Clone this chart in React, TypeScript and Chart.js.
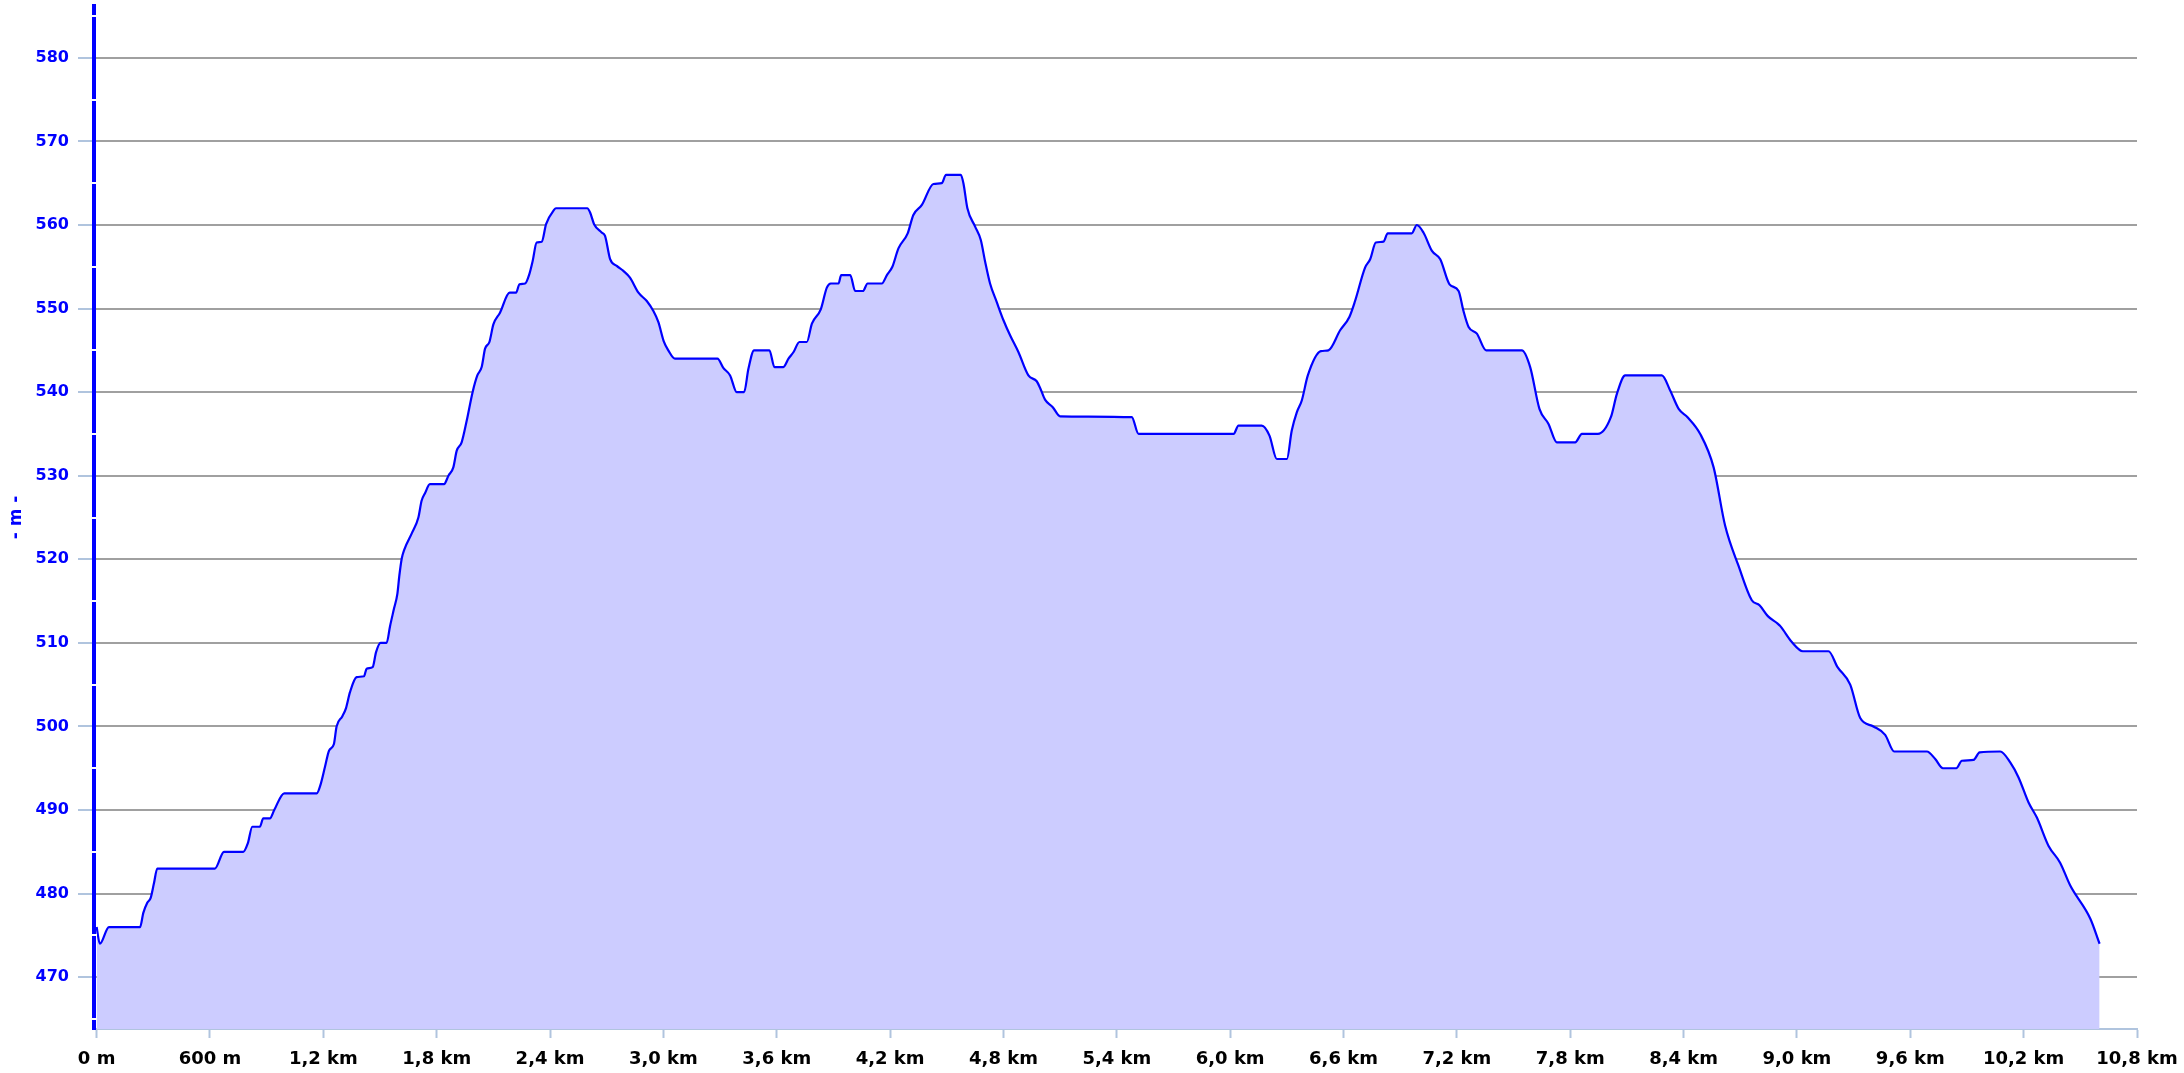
import React, { useEffect, useRef } from "react";
import { Chart, registerables } from "chart.js";

Chart.register(...registerables);

// Distance along the track (m)
const distances = [
  0, 17, 65, 230, 247, 268, 286, 303, 321, 626, 674, 776, 800, 824, 864, 882, 917, 940, 993, 1165,
  1186, 1209, 1230, 1256, 1270, 1300, 1320, 1341, 1376, 1415, 1429, 1461, 1479, 1503, 1535, 1553, 1574, 1592, 1602, 1615,
  1629, 1668, 1703, 1720, 1738, 1764, 1839, 1862, 1888, 1906, 1932, 1959, 1990, 2015, 2038, 2056, 2079, 2100, 2135, 2186,
  2220, 2238, 2268, 2290, 2308, 2329, 2356, 2379, 2421, 2431, 2597, 2612, 2633, 2673, 2691, 2718, 2753, 2788, 2823, 2868,
  2912, 2947, 2973, 3003, 3026, 3061, 3286, 3317, 3353, 3388, 3427, 3450, 3480, 3561, 3588, 3635, 3662, 3689, 3720, 3759,
  3786, 3833, 3865, 3886, 3927, 3941, 3989, 4015, 4056, 4081, 4156, 4183, 4212, 4244, 4293, 4323, 4368, 4429, 4473, 4496,
  4574, 4588, 4609, 4650, 4680, 4703, 4729, 4764, 4800, 4835, 4879, 4932, 4976, 4994, 5020, 5061, 5100, 5479, 5515, 6018,
  6044, 6167, 6208, 6247, 6300, 6326, 6353, 6379, 6411, 6480, 6520, 6582, 6631, 6661, 6714, 6741, 6771, 6811, 6834, 6961,
  6988, 7023, 7068, 7112, 7161, 7209, 7235, 7262, 7306, 7355, 7544, 7588, 7637, 7685, 7729, 7826, 7862, 7946, 8015, 8047,
  8091, 8285, 8329, 8374, 8421, 8488, 8559, 8620, 8691, 8761, 8802, 8846, 8898, 8912, 8973, 9031, 9167, 9215, 9282, 9335,
  9405, 9467, 9515, 9688, 9732, 9773, 9843, 9873, 9935, 9967, 10076, 10129, 10173, 10226, 10270, 10332, 10393, 10446, 10553, 10602,
];

// Elevation (m)
const elevations = [
  476, 474, 476, 476, 477.7, 478.9, 479.5, 481.2, 483, 483, 485, 485, 486, 488, 488, 489, 489, 490, 492, 492,
  493.1, 495.2, 497.1, 497.9, 500, 501.2, 502.2, 504.1, 505.9, 506, 506.9, 507.1, 508.9, 510, 510, 512, 514.1, 515.9, 518, 520.1,
  521.2, 523.1, 525, 527, 527.9, 529, 529, 530, 531, 533, 534, 536.6, 540, 542, 543, 545.2, 546, 548.1, 549.5, 551.9,
  551.9, 552.9, 553, 554.1, 555.7, 557.9, 558, 560.1, 561.8, 562, 562, 561.5, 560.1, 559.1, 558.7, 555.9, 555.1, 554.5, 553.7, 551.9,
  550.9, 549.7, 548.4, 546, 545, 544, 544, 542.9, 542, 540, 540, 542.8, 545, 545, 543, 543, 544, 544.8, 546, 546,
  548.2, 549.9, 552.5, 553, 553, 554, 554, 552.1, 552.1, 553, 553, 554, 555, 557.2, 559, 561.2, 562.4, 564.9, 565, 566,
  566, 565, 562, 559.8, 558.2, 555.6, 553, 550.8, 548.6, 546.8, 544.8, 542, 541.3, 540.5, 539.1, 538.2, 537.1, 537, 535, 535,
  536, 536, 534.8, 532, 532, 535.4, 537.6, 539, 542, 544.9, 545, 547.4, 549, 550.9, 554.9, 555.9, 557.9, 558, 559, 559,
  560, 559.1, 556.9, 555.9, 552.9, 552.1, 549.7, 547.8, 547, 545, 545, 543, 538, 536.2, 534, 534, 535, 535, 537, 539.8,
  542, 542, 540.2, 538, 537, 535, 531, 524, 519.2, 515.1, 514.5, 513.2, 512.3, 512, 510.1, 509, 509, 507.1, 505, 501,
  500, 499, 497, 497, 496.1, 495, 495, 495.9, 496, 496.9, 497, 495.7, 493.9, 490.9, 489.1, 485.7, 483.7, 481, 477, 474,
];

const xTickValues = [0, 600, 1200, 1800, 2400, 3000, 3600, 4200, 4800, 5400, 6000, 6600, 7200, 7800, 8400, 9000, 9600, 10200, 10800];
const xTickLabels = ["0 m", "600 m", "1,2 km", "1,8 km", "2,4 km", "3,0 km", "3,6 km", "4,2 km", "4,8 km", "5,4 km", "6,0 km", "6,6 km", "7,2 km", "7,8 km", "8,4 km", "9,0 km", "9,6 km", "10,2 km", "10,8 km"];
const yTickValues = [470, 480, 490, 500, 510, 520, 530, 540, 550, 560, 570, 580];
const yMinorTicks = [465, 475, 485, 495, 505, 515, 525, 535, 545, 555, 565, 575, 585];
const yTitle = "- m -";

const FONT = '"DejaVu Sans", Verdana, sans-serif';

const axisGaps = {
  id: "axisGaps",
  afterDraw(chart: any) {
    const y = chart.scales.y;
    const ctx = chart.ctx;
    ctx.save();
    ctx.fillStyle = "#ffffff";
    for (const v of yMinorTicks) {
      const py = y.getPixelForValue(v);
      if (py < chart.chartArea.top || py > chart.chartArea.bottom) continue;
      ctx.fillRect(y.right - 3, Math.round(py) - 1, 6, 2);
    }
    ctx.restore();
  },
};

export default function App() {
  const canvasRef = useRef<HTMLCanvasElement | null>(null);

  useEffect(() => {
    if (!canvasRef.current) return;
    const points = distances.map((d, i) => ({ x: d, y: elevations[i] }));
    const chart = new Chart(canvasRef.current, {
      type: "line",
      data: {
        datasets: [
          {
            data: points,
            borderColor: "#0000ff",
            borderWidth: 2.2,
            backgroundColor: "#ccccff",
            fill: "start",
            pointRadius: 0,
            cubicInterpolationMode: "monotone",
          },
        ],
      },
      plugins: [axisGaps],
      options: {
        animation: false,
        responsive: false,
        devicePixelRatio: 1,
        layout: { padding: { top: 6, right: 47, bottom: 0, left: 0 } },
        plugins: { legend: { display: false }, tooltip: { enabled: false } },
        scales: {
          x: {
            type: "linear",
            position: "bottom",
            min: -14,
            max: 10800,
            afterFit(scale: any) {
              scale.height = 44;
              scale.paddingLeft = 0;
              scale.paddingRight = 0;
            },
            afterBuildTicks(scale: any) {
              scale.ticks = xTickValues.map((v) => ({ value: v }));
            },
            ticks: {
              autoSkip: false,
              maxRotation: 0,
              padding: 11,
              color: "#000000",
              font: { family: FONT, size: 18, weight: "bold" },
              callback: (value: any) => {
                const i = xTickValues.indexOf(Number(value));
                return i >= 0 ? xTickLabels[i] : "";
              },
            },
            grid: {
              display: true,
              drawOnChartArea: false,
              drawTicks: true,
              tickLength: 9,
              tickWidth: 2,
              tickColor: "#b0c4de",
            },
            border: { display: true, color: "#b0c4de", width: 2 },
          },
          y: {
            type: "linear",
            min: 463.8,
            max: 586.2,
            afterFit(scale: any) {
              scale.width = 94;
              scale.paddingTop = 0;
              scale.paddingBottom = 0;
            },
            afterBuildTicks(scale: any) {
              scale.ticks = yTickValues.map((v) => ({ value: v }));
            },
            ticks: {
              padding: 9,
              color: "#0000ff",
              font: { family: FONT, size: 16, weight: "bold" },
            },
            grid: {
              color: "#a0a0a0",
              lineWidth: 2,
              tickLength: 16,
              tickWidth: 2,
              tickColor: "#b0c4de",
            },
            border: { display: true, color: "#0000ff", width: 4 },
            title: {
              display: true,
              text: yTitle,
              color: "#0000ff",
              font: { family: FONT, size: 17, weight: "bold" },
              padding: { top: 6, bottom: 0 },
            },
          },
        },
      },
    } as any);
    return () => chart.destroy();
  }, []);

  return (
    <div style={{ position: "absolute", left: 0, top: 0, width: 2184, height: 1073, background: "#ffffff" }}>
      <canvas ref={canvasRef} width={2184} height={1073} style={{ display: "block" }} />
    </div>
  );
}
